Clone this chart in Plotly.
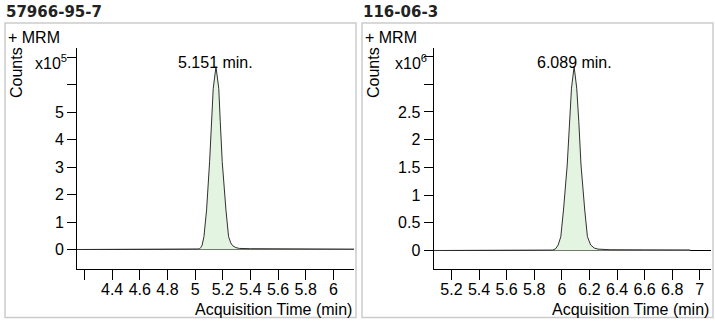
import plotly.graph_objects as go

# MRM chromatograms for two compounds (retention time in min, counts)
left_name = "57966-95-7"
left_rt_label = "5.151 min."
left_apex_rt = 5.151
left_time = [4.146, 4.60, 5.00, 5.031, 5.042, 5.051, 5.064, 5.083, 5.105, 5.119, 5.131,
             5.151, 5.171, 5.182, 5.196, 5.223, 5.242, 5.258, 5.271, 5.295, 5.319, 5.40,
             5.72, 6.149]
left_counts = [0, 0, 0, 2000, 8000, 16000, 47000, 144000, 320000, 465000, 586000,
               665000, 586000, 465000, 320000, 144000, 47000, 24000, 14000, 7000, 4000, 3000,
               2000, 1500]

right_name = "116-06-3"
right_rt_label = "6.089 min."
right_apex_rt = 6.089
right_time = [5.070, 5.50, 5.90, 5.935, 5.955, 5.9735, 5.9925, 6.012, 6.039, 6.056, 6.070,
              6.089, 6.108, 6.123, 6.139, 6.166, 6.1855, 6.209, 6.235, 6.262, 6.35, 6.60,
              6.93]
right_counts = [0, 0, 0, 8000, 30000, 99000, 249000, 731000, 1543000, 2325000, 2930000,
                3320000, 2930000, 2325000, 1543000, 731000, 249000, 99000, 45000, 25000,
                14000, 12000, 10000]

left_xticks = [4.2, 4.4, 4.6, 4.8, 5.0, 5.2, 5.4, 5.6, 5.8, 6.0]
left_xtext = ["", "4.4", "4.6", "4.8", "5", "5.2", "5.4", "5.6", "5.8", "6"]
left_yticks = [0, 1e5, 2e5, 3e5, 4e5, 5e5, 6e5, 7e5]
left_ytext = ["0", "1", "2", "3", "4", "5", "", ""]
left_exp = "x10<sup>5</sup>"

right_xticks = [5.2, 5.4, 5.6, 5.8, 6.0, 6.2, 6.4, 6.6, 6.8, 7.0]
right_xtext = ["5.2", "5.4", "5.6", "5.8", "6", "6.2", "6.4", "6.6", "6.8", "7"]
right_yticks = [0, 0.5e6, 1e6, 1.5e6, 2e6, 2.5e6, 3e6, 3.5e6]
right_ytext = ["0", "0.5", "1", "1.5", "2", "2.5", "", ""]
right_exp = "x10<sup>6</sup>"

W, H = 715, 323
FONT = "Liberation Sans, Arial, sans-serif"
TITLE_FONT = "DejaVu Sans, Verdana, sans-serif"
FILL = "rgb(227,244,224)"


def px(x):
    return x / W


def py(y):
    return 1 - y / H


fig = go.Figure()
for t, c, xa, ya in [(left_time, left_counts, "x", "y"),
                     (right_time, right_counts, "x2", "y2")]:
    fig.add_trace(go.Scatter(x=t, y=c, xaxis=xa, yaxis=ya, mode="lines",
                             fill="tozeroy", fillcolor=FILL,
                             line=dict(color="#303030", width=1),
                             hoverinfo="skip", showlegend=False))

ydom = [py(269), py(48)]
common_x = dict(showline=True, linecolor="black", linewidth=1, ticks="outside",
                ticklen=10, tickcolor="black", showgrid=False, zeroline=False,
                ticklabelstandoff=-4,
                tickfont=dict(family=FONT, size=16, color="black"), tickmode="array")
common_y = dict(showline=True, linecolor="black", linewidth=1, ticks="outside",
                ticklen=9, tickcolor="black", showgrid=False, zeroline=True,
                zerolinecolor="black", zerolinewidth=1,
                tickfont=dict(family=FONT, size=16, color="black"), tickmode="array")

fig.update_layout(
    width=W, height=H, margin=dict(l=0, r=0, t=0, b=0),
    paper_bgcolor="white", plot_bgcolor="white",
    xaxis=dict(domain=[px(77), px(354)], range=[4.146, 6.149], anchor="y",
               tickvals=left_xticks, ticktext=left_xtext, **common_x),
    yaxis=dict(domain=ydom, range=[-70900, 733000], anchor="x",
               tickvals=left_yticks, ticktext=left_ytext, **common_y),
    xaxis2=dict(domain=[px(433.5), px(711)], range=[5.070, 7.081], anchor="y2",
                tickvals=right_xticks, ticktext=right_xtext, **common_x),
    yaxis2=dict(domain=ydom, range=[-334000, 3655000], anchor="x2",
                tickvals=right_yticks, ticktext=right_ytext, **common_y),
)

shapes = []
annotations = []
panels = [
    (5, 356, 77, 354, 8, left_name, left_exp, left_rt_label, left_apex_rt,
     max(left_counts), "x", "y"),
    (362, 713, 433.5, 711, 5, right_name, right_exp, right_rt_label, right_apex_rt,
     max(right_counts), "x2", "y2"),
]
for bx0, bx1, ax0, ax1, exp_gap, name, exp, rt_label, rt, apex, xr, yr in panels:
    shapes.append(dict(type="rect", xref="paper", yref="paper",
                       x0=px(bx0), x1=px(bx1), y0=py(317.5), y1=py(23),
                       line=dict(color="#cccccc", width=1.5), fillcolor="rgba(0,0,0,0)"))
    annotations += [
        dict(text="<b>" + name + "</b>", x=px(bx0 - 1), y=py(12), xref="paper", yref="paper",
             xanchor="left", yanchor="middle", showarrow=False,
             font=dict(family=TITLE_FONT, size=15, color="#222222")),
        dict(text="+ MRM", x=px(bx0 + 1), y=py(37), xref="paper", yref="paper",
             xanchor="left", yanchor="middle", showarrow=False,
             font=dict(family=FONT, size=16, color="black")),
        dict(text="Counts", x=px(bx0 + 12), y=py(73), xref="paper", yref="paper",
             xanchor="center", yanchor="middle", textangle=-90, showarrow=False,
             font=dict(family=FONT, size=16, color="black")),
        dict(text=exp, x=px(ax0 - exp_gap), y=py(62), xref="paper", yref="paper",
             xanchor="right", yanchor="middle", showarrow=False,
             font=dict(family=FONT, size=16, color="black")),
        dict(text="Acquisition Time (min)", x=px(ax1), y=py(309), xref="paper", yref="paper",
             xanchor="right", yanchor="middle", showarrow=False,
             font=dict(family=FONT, size=16, color="black")),
        dict(text=rt_label, x=rt, y=apex, xref=xr, yref=yr, xanchor="center",
             yanchor="middle", yshift=4, showarrow=False,
             font=dict(family=FONT, size=16, color="black")),
    ]

fig.update_layout(shapes=shapes, annotations=annotations)
fig.write_html("out.html")
